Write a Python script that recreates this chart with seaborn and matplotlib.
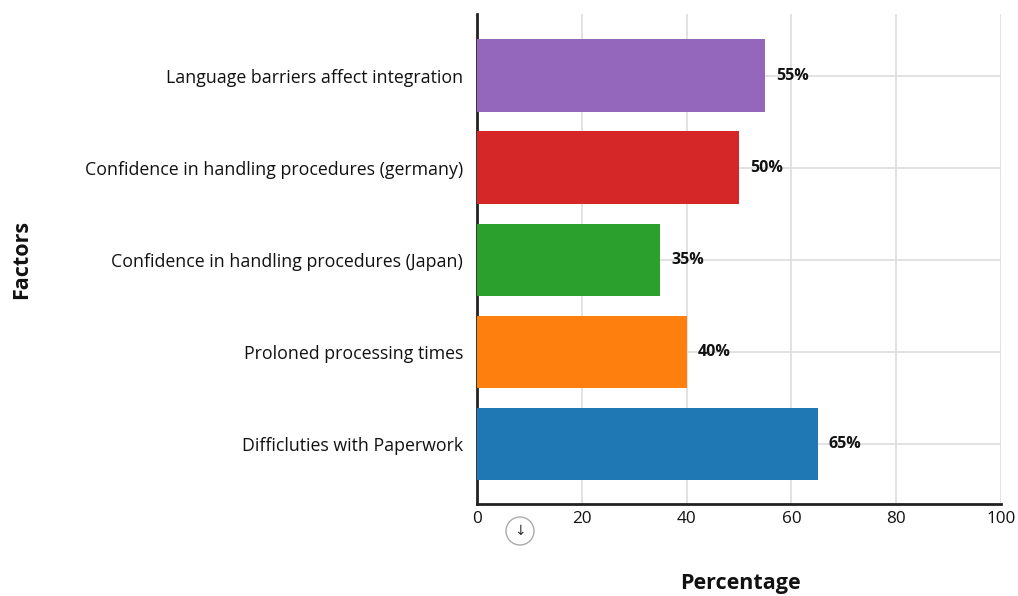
import pandas as pd
import seaborn as sns
import matplotlib.pyplot as plt
from matplotlib.patches import Ellipse

# chart data (top to bottom as drawn)
factors = [
    "Language barriers affect integration",
    "Confidence in handling procedures (germany)",
    "Confidence in handling procedures (Japan)",
    "Proloned processing times",
    "Difficluties with Paperwork",
]
percentages = [55, 50, 35, 40, 65]
bar_colors = ["#9467bd", "#d62728", "#2ca02c", "#ff7f0e", "#1f77b4"]
x_ticks = [0, 20, 40, 60, 80, 100]

df = pd.DataFrame({"Factor": factors, "Percentage": percentages})

sns.set_style("white")
plt.rcParams["font.family"] = ["Open Sans", "DejaVu Sans"]

W, H = 1018, 596
fig = plt.figure(figsize=(W / 100, H / 100), dpi=100)
ax = fig.add_axes([0.4686, 0.1544, 0.5147, 0.8221])

sns.barplot(data=df, x="Percentage", y="Factor", hue="Factor",
            palette=bar_colors, legend=False, width=0.79,
            saturation=1, linewidth=0, ax=ax, zorder=3)

ax.set_xlim(0, 100)
ax.set_ylim(4.65, -0.67)
ax.set_xticks(x_ticks)
ax.set_xticklabels([str(t) for t in x_ticks])

# grid: vertical at ticks, horizontal at categories
ax.grid(True, axis="both", color="#dddddd", linewidth=1.2, zorder=0)
ax.set_axisbelow(True)

for side in ["top", "right"]:
    ax.spines[side].set_visible(False)
for side in ["left", "bottom"]:
    ax.spines[side].set_color("#222222")
    ax.spines[side].set_linewidth(2)

ax.tick_params(axis="both", length=0, labelsize=12.3, colors="#111111")
ax.tick_params(axis="y", pad=10, labelsize=12.8)
ax.tick_params(axis="x", pad=5)

ax.set_xlabel("")
ax.set_ylabel("")
fig.text(740 / W, 1 - 583 / H, "Percentage", ha="center", va="center",
         fontsize=15.5, fontweight="bold", color="#111111")
fig.text(22 / W, 1 - 259 / H, "Factors", ha="center", va="center",
         rotation=90, fontsize=15.5, fontweight="bold", color="#111111")

# value labels
for i, v in enumerate(percentages):
    ax.text(v + 2.1, i, f"{v}%", va="center", ha="left",
            fontsize=11.5, fontweight="bold", color="#111111", zorder=4)

# small scroll icon below the axis
fig.patches.append(Ellipse((520 / W, 1 - 531 / H), 28 / W, 28 / H,
                           transform=fig.transFigure, fill=False,
                           edgecolor="#aaaaaa", linewidth=1))
fig.text(520 / W, 1 - 531 / H, "\u2193", ha="center", va="center",
         fontsize=10, color="#333333", family=["DejaVu Sans"])

fig.savefig("out.png", dpi=100)
